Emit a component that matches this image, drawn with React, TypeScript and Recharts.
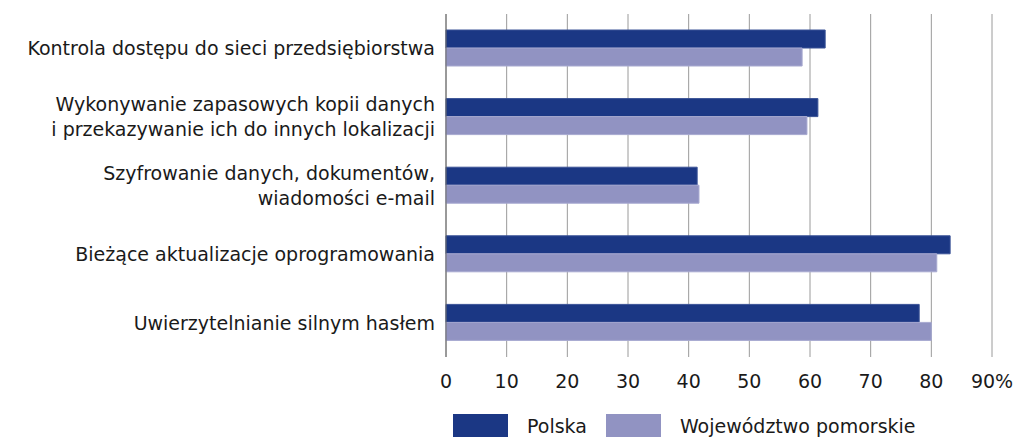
import React from "react";
import { BarChart, Bar, XAxis, YAxis, CartesianGrid } from "recharts";

const categories = [
  "Kontrola dostępu do sieci przedsiębiorstwa",
  "Wykonywanie zapasowych kopii danych\ni przekazywanie ich do innych lokalizacji",
  "Szyfrowanie danych, dokumentów,\nwiadomości e-mail",
  "Bieżące aktualizacje oprogramowania",
  "Uwierzytelnianie silnym hasłem",
];
const polska = [62.5, 61.3, 41.4, 83.1, 78.0];
const pomorskie = [58.7, 59.5, 41.7, 80.9, 80.0];
const xTicks = [0, 10, 20, 30, 40, 50, 60, 70, 80, 90];

const seriesNames = ["Polska", "Województwo pomorskie"];
const colors = ["#1b3784", "#9193c2"];

const data = categories.map((c, i) => ({
  name: c,
  polska: polska[i],
  pomorskie: pomorskie[i],
}));

const FONT = "'DejaVu Sans', sans-serif";
const FS = 19;

const YTick = (props: any) => {
  const { x, y, payload } = props;
  const lines = String(payload.value).split("\n");
  const lh = 25;
  const start = y - ((lines.length - 1) * lh) / 2;
  return (
    <text
      x={x - 3}
      y={start}
      textAnchor="end"
      dominantBaseline="central"
      fontSize={FS}
      fontFamily={FONT}
      fill="#1a1a1a"
    >
      {lines.map((l, i) => (
        <tspan key={i} x={x - 3} y={start + i * lh}>
          {l}
        </tspan>
      ))}
    </text>
  );
};

const Legend = () => (
  <div
    style={{
      position: "absolute",
      left: 453,
      top: 414,
      display: "flex",
      alignItems: "center",
      fontFamily: FONT,
      fontSize: FS,
      color: "#1a1a1a",
    }}
  >
    {seriesNames.map((n, i) => (
      <div key={n} style={{ display: "flex", alignItems: "center", marginRight: 19 }}>
        <div style={{ width: 55, height: 23, background: colors[i], marginRight: 19 }} />
        <span>{n}</span>
      </div>
    ))}
  </div>
);

export default function App() {
  return (
    <div style={{ position: "absolute", left: 0, top: 0, width: 1022, height: 437, background: "#fff" }}>
      <BarChart
        width={1022}
        height={437}
        data={data}
        layout="vertical"
        margin={{ top: 14, right: 30, bottom: 50, left: 0 }}
        barGap={0}
        barSize={18}
      >
        <CartesianGrid horizontal={false} stroke="#9a9a9a" />
        <XAxis
          type="number"
          domain={[0, 90]}
          ticks={xTicks}
          interval={0}
          tickFormatter={(v: number) => (v === 90 ? "90%" : String(v))}
          axisLine={false}
          tickLine={false}
          tick={{ fontSize: FS, fontFamily: FONT, fill: "#1a1a1a" }}
          tickMargin={12}
        />
        <YAxis
          type="category"
          dataKey="name"
          width={446}
          tick={<YTick />}
          tickLine={false}
          axisLine={{ stroke: "#666" }}
          interval={0}
        />
        <Bar dataKey="polska" fill={colors[0]} stroke="#3a5296" strokeWidth={1} isAnimationActive={false} />
        <Bar dataKey="pomorskie" fill={colors[1]} stroke="#a7a9d0" strokeWidth={1} isAnimationActive={false} />
      </BarChart>
      <Legend />
    </div>
  );
}
